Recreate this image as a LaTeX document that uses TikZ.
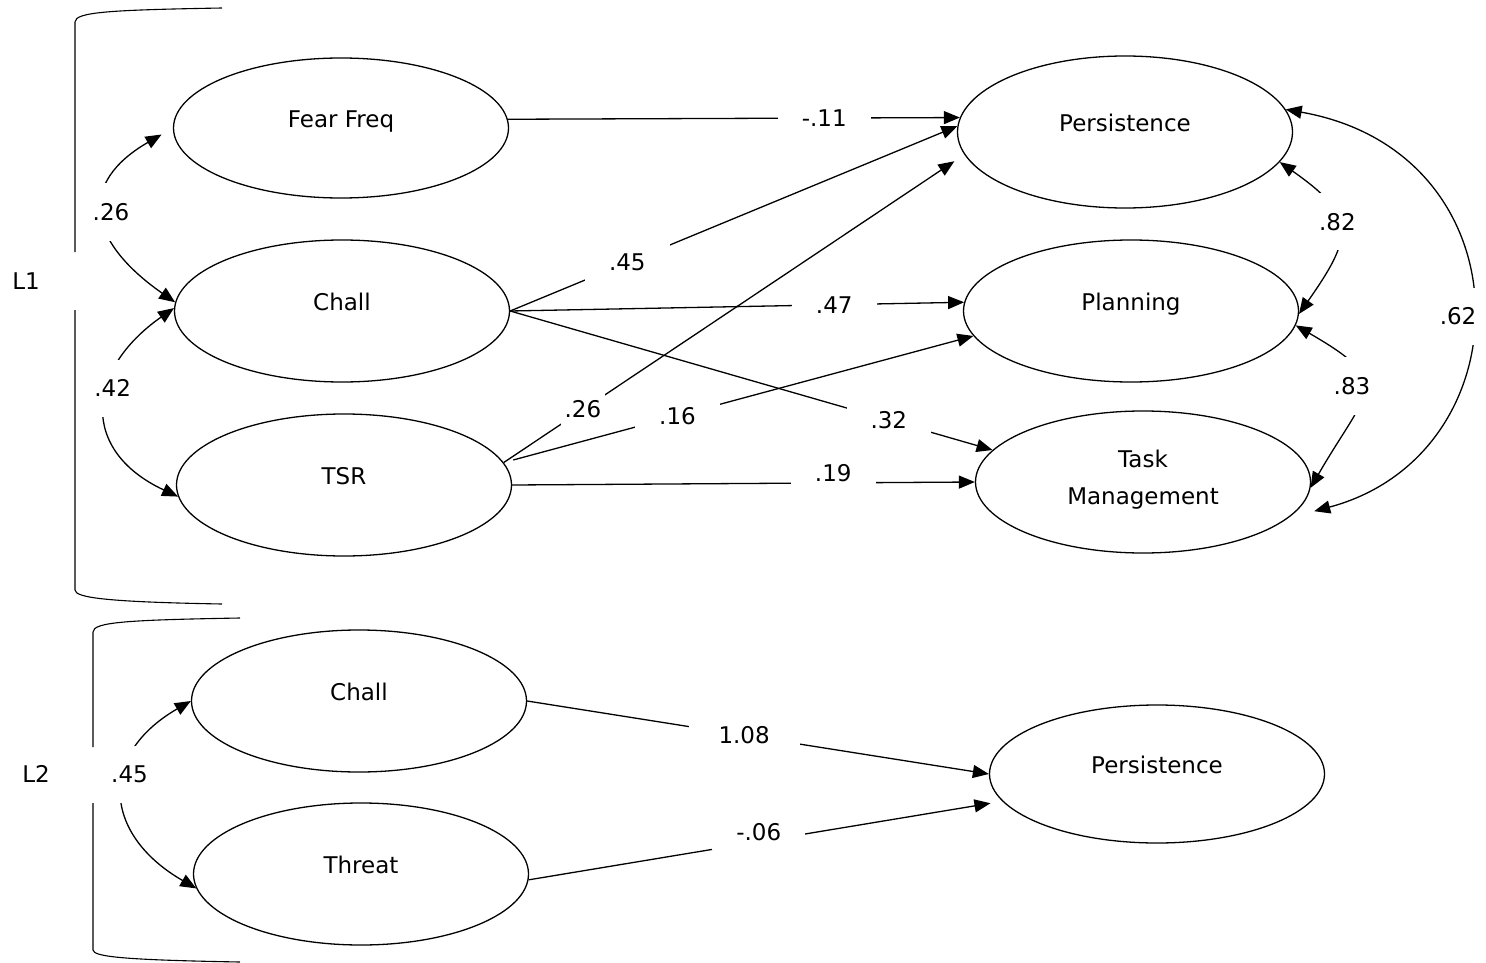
\documentclass[tikz,border=0pt]{standalone}
\usepackage{fontspec}
\setmainfont{DejaVu Sans}
\usetikzlibrary{shapes.geometric,arrows.meta}

\begin{document}
\begin{tikzpicture}[
    x=1pt, y=-1pt,
    line width=1.3pt,
    font=\fontsize{23}{27}\selectfont,
    lat/.style={ellipse, draw, minimum width=335pt, minimum height=142pt, text depth=18pt, align=center},
    arrow/.style={-{Triangle[length=16pt,width=13pt]}},
    covarrow/.style={{Triangle[length=16pt,width=13pt]}-{Triangle[length=16pt,width=13pt]}},
    coef/.style={fill=white, inner xsep=24pt, inner ysep=10pt},
    cov/.style={fill=white, inner xsep=2pt, inner ysep=20pt}
]
    \useasboundingbox (0,0) rectangle (1486,963);

    % Level 1
    \node[lat, minimum height=140pt] (fear) at (341,128) {Fear Freq};
    \node[lat] (chall) at (342,311) {Chall};
    \node[lat] (tsr) at (344,485) {TSR};
    \node[lat, minimum height=152pt] (pers) at (1125,132) {Persistence};
    \node[lat] (plan) at (1131,311) {Planning};
    \node[lat, font=\fontsize{23}{37}\selectfont, text depth=9pt] (task) at (1143,482) {Task\\Management};

    % Level 2
    \node[lat] (chall2) at (359,701) {Chall};
    \node[lat] (threat) at (361,874) {Threat};
    \node[lat, minimum height=138pt] (pers2) at (1157,774) {Persistence};

    % Brackets
    \draw[line width=1.1pt] (222,8) .. controls (110,10) and (75,12) .. (75,22) -- (75,252);
    \draw[line width=1.1pt] (75,310) -- (75,590) .. controls (75,598) and (110,602) .. (222,604);
    \node (l1) at (26,281) {L1};
    \draw[line width=1.1pt] (240,618) .. controls (128,620) and (93,622) .. (93,632) -- (93,747);
    \draw[line width=1.1pt] (93,803) -- (93,950) .. controls (93,957) and (128,960) .. (240,962);
    \node (l2) at (36,774) {L2};

    % Paths
    \draw[arrow] (fear.3) -- node[coef, pos=0.70] {-.11} (pers.175);
    \draw[arrow] (chall.east) -- node[coef, pos=0.262] {.45} (pers.178);
    \draw[arrow] (chall.east) -- node[coef, pos=0.714] {.47} (plan.177);
    \draw[arrow] (chall.east) -- node[coef, pos=0.785] {.32} (task.168);
    \draw[arrow, shorten >=12pt] (tsr.8) -- node[coef, pos=0.172, inner xsep=4pt, inner ysep=14pt] {.26} (pers.188);
    \draw[arrow, shorten <=10pt] (tsr.8) -- node[coef, pos=0.37] {.16} (plan.189);
    \draw[arrow] (tsr.east) -- node[coef, pos=0.694, yshift=10pt] {.19} (task.west);
    \draw[arrow] (chall2.east) -- node[coef, pos=0.47, inner xsep=30pt] {1.08} (pers2.west);
    \draw[arrow, shorten >=12pt] (threat.-2) -- node[coef, pos=0.486, yshift=10pt] {-.06} (pers2.190);

    % Covariances
    \draw[covarrow, shorten <=13pt] (fear.west) to[out=210, in=145, looseness=1.6] node[cov, xshift=6pt] {.26} (chall.177);
    \draw[covarrow] (chall.179) to[out=215, in=155, looseness=1.47] node[cov, pos=0.4, xshift=4pt] {.42} (tsr.184);
    \draw[covarrow] (chall2.west) to[out=210, in=150, looseness=1.47] node[cov, pos=0.4, xshift=4pt] {.45} (threat.185);
    \draw[covarrow] (pers.-11) to[out=-35, in=55, looseness=1.58] node[cov, pos=0.44] {.82} (plan.-1);
    \draw[covarrow] (plan.-5) to[out=-30, in=60, looseness=1.8] node[cov, pos=0.46, xshift=-10pt] {.83} (task.-2);
    \draw[covarrow, shorten >=27pt] (pers.8) to[out=-10, in=15, looseness=1.55] node[cov, pos=0.52, xshift=-10pt] {.62} (task.-14);
\end{tikzpicture}
\end{document}
